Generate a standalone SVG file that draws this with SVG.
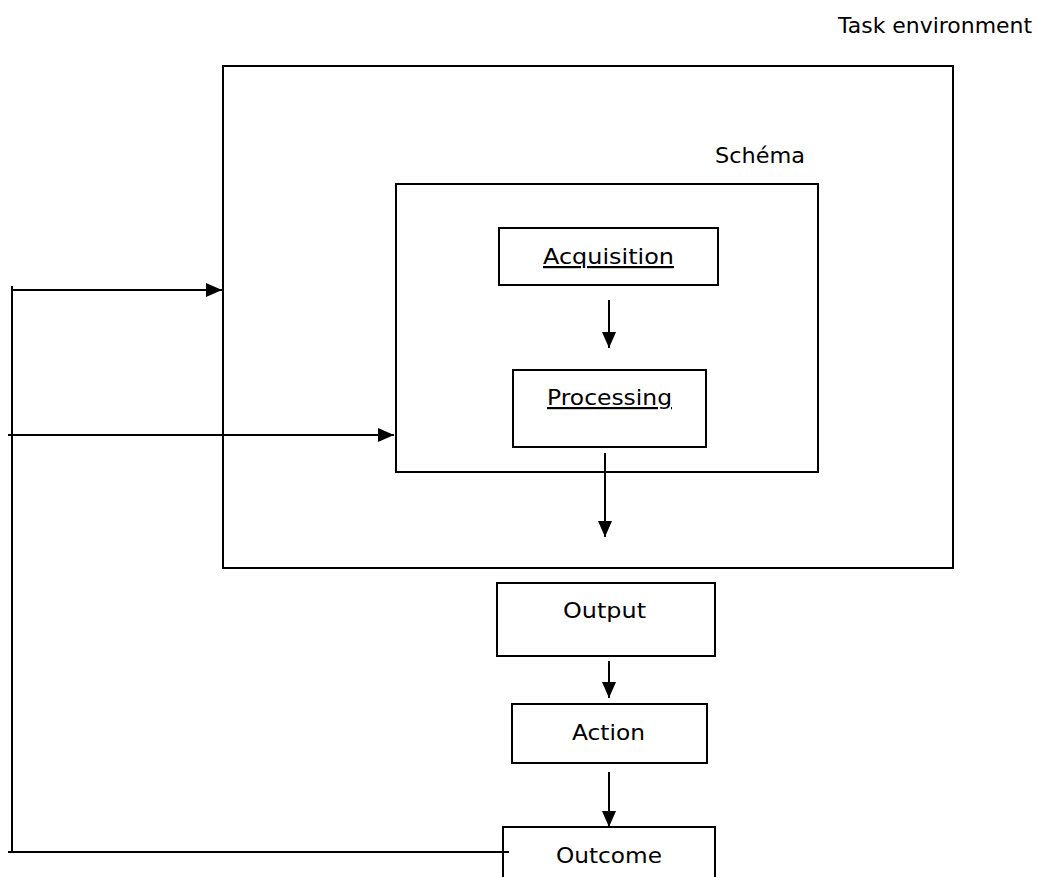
<svg xmlns="http://www.w3.org/2000/svg" width="1046" height="877" viewBox="0 0 1046 877">
<style>
.box{fill:none;stroke:#000;stroke-width:2}
.lbl{font-family:"DejaVu Sans",sans-serif;font-size:22px;fill:#000}
.u{text-decoration:underline}
.ln{fill:none;stroke:#000;stroke-width:2}
.arr{fill:none;stroke:#000;stroke-width:2;marker-end:url(#ah)}
</style>
<defs>
<marker id="ah" markerUnits="userSpaceOnUse" markerWidth="16" markerHeight="14" refX="16" refY="7" orient="auto">
<path d="M0,0 L16,7 L0,14 Z" fill="#000"/>
</marker>
</defs>
<rect width="1046" height="877" fill="#fff"/>
<g id="task-environment">
<rect class="box" x="223" y="66" width="730" height="502"/>
<text class="lbl" x="838" y="33" textLength="194" lengthAdjust="spacingAndGlyphs">Task environment</text>
</g>
<g id="schema">
<rect class="box" x="396" y="184" width="422" height="288"/>
<text class="lbl" x="715" y="163" textLength="90" lengthAdjust="spacingAndGlyphs">Schéma</text>
</g>
<g id="acquisition">
<rect class="box" x="499" y="228" width="219" height="57"/>
<text class="lbl u" x="543" y="264" textLength="131" lengthAdjust="spacingAndGlyphs">Acquisition</text>
</g>
<g id="processing">
<rect class="box" x="513" y="370" width="193" height="77"/>
<text class="lbl u" x="547" y="405" textLength="125" lengthAdjust="spacingAndGlyphs">Processing</text>
</g>
<g id="output">
<rect class="box" x="497" y="583" width="218" height="73"/>
<text class="lbl" x="563" y="618" textLength="83" lengthAdjust="spacingAndGlyphs">Output</text>
</g>
<g id="action">
<rect class="box" x="512" y="704" width="195" height="59"/>
<text class="lbl" x="572" y="740" textLength="73" lengthAdjust="spacingAndGlyphs">Action</text>
</g>
<g id="outcome">
<path class="box" d="M503,880 V827 H715 V880"/>
<text class="lbl" x="556" y="863" textLength="106" lengthAdjust="spacingAndGlyphs">Outcome</text>
</g>
<g id="connectors">
<line class="ln" x1="8" y1="852" x2="509" y2="852"/>
<line class="ln" x1="12" y1="286" x2="12" y2="852"/>
<line class="arr" x1="12" y1="290" x2="222" y2="290"/>
<line class="arr" x1="8" y1="435" x2="394" y2="435"/>
<line class="arr" x1="609" y1="300" x2="609" y2="348"/>
<line class="arr" x1="605" y1="453" x2="605" y2="537"/>
<line class="arr" x1="609" y1="661" x2="609" y2="698"/>
<line class="arr" x1="609" y1="772" x2="609" y2="827"/>
</g>
</svg>
